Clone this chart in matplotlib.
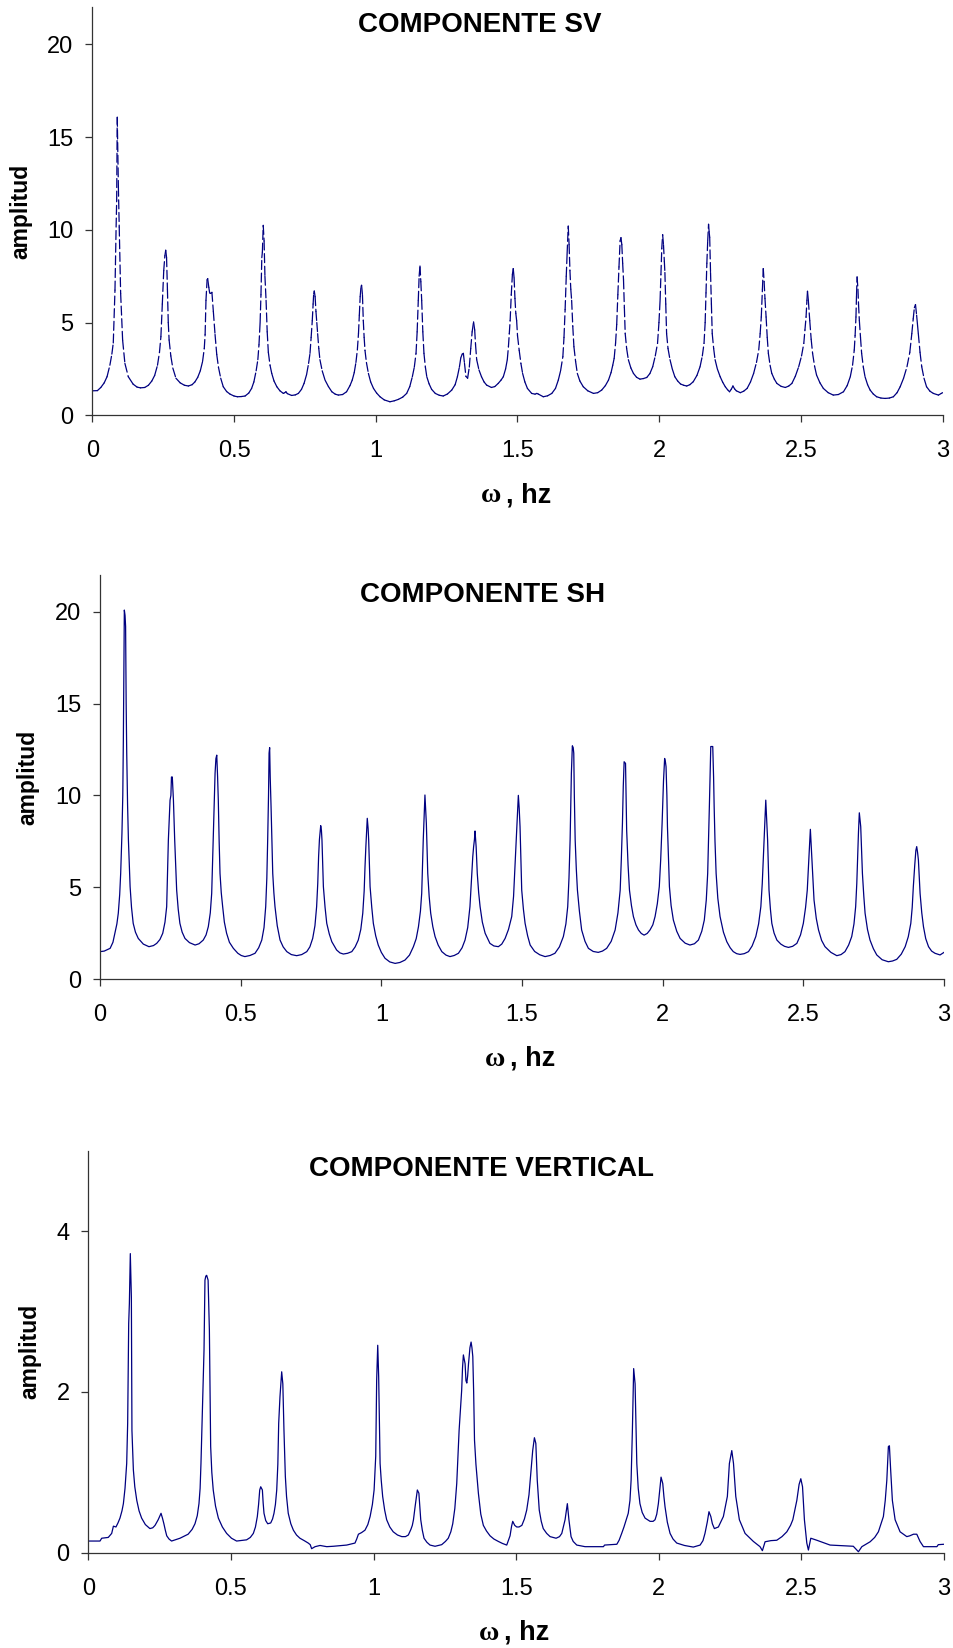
import numpy as np
import matplotlib
matplotlib.use("Agg")
import matplotlib.pyplot as plt
from matplotlib.collections import LineCollection

plt.rcParams['font.family'] = ['Liberation Sans', 'DejaVu Sans']
plt.rcParams['lines.scale_dashes'] = False

# ---------------------------------------------------------------- data
x_ticks = [0, 0.5, 1, 1.5, 2, 2.5, 3]
x_tick_labels = ['0', '0.5', '1', '1.5', '2', '2.5', '3']

titles = ['COMPONENTE SV', 'COMPONENTE SH', 'COMPONENTE VERTICAL']
y_label = 'amplitud'

# Componente SV
sv_freq = [
    0.000, 0.018, 0.030, 0.042, 0.052, 0.062, 0.069, 0.074, 0.080, 0.084, 0.086, 0.088,
    0.092, 0.095, 0.100, 0.107, 0.115, 0.127, 0.144, 0.158, 0.170, 0.185, 0.198, 0.210,
    0.220, 0.230, 0.237, 0.242, 0.247, 0.252, 0.256, 0.259, 0.262, 0.265, 0.268, 0.271,
    0.277, 0.284, 0.295, 0.310, 0.325, 0.339, 0.352, 0.362, 0.372, 0.381, 0.389, 0.395,
    0.398, 0.401, 0.405, 0.407, 0.411, 0.414, 0.418, 0.422, 0.427, 0.433, 0.439, 0.445,
    0.453, 0.462, 0.474, 0.486, 0.500, 0.512, 0.525, 0.539, 0.552, 0.562, 0.570, 0.578,
    0.584, 0.588, 0.592, 0.595, 0.598, 0.600, 0.603, 0.606, 0.609, 0.613, 0.617, 0.621,
    0.627, 0.633, 0.641, 0.651, 0.662, 0.674, 0.679, 0.683, 0.688, 0.703, 0.716, 0.727,
    0.738, 0.747, 0.756, 0.763, 0.768, 0.772, 0.776, 0.779, 0.781, 0.783, 0.786, 0.789,
    0.792, 0.795, 0.799, 0.803, 0.811, 0.821, 0.833, 0.845, 0.857, 0.868, 0.883, 0.897,
    0.909, 0.917, 0.924, 0.930, 0.935, 0.939, 0.942, 0.945, 0.948, 0.950, 0.953, 0.956,
    0.959, 0.962, 0.967, 0.974, 0.982, 0.992, 1.003, 1.015, 1.030, 1.050, 1.065, 1.080,
    1.095, 1.109, 1.120, 1.129, 1.136, 1.142, 1.146, 1.150, 1.153, 1.156, 1.159, 1.162,
    1.166, 1.170, 1.175, 1.180, 1.188, 1.197, 1.210, 1.224, 1.238, 1.253, 1.268, 1.280,
    1.288, 1.295, 1.300, 1.305, 1.309, 1.313, 1.318, 1.324, 1.330, 1.335, 1.340, 1.345,
    1.349, 1.352, 1.356, 1.364, 1.373, 1.382, 1.391, 1.408, 1.420, 1.432, 1.442, 1.450,
    1.458, 1.464, 1.468, 1.471, 1.474, 1.478, 1.482, 1.485, 1.488, 1.491, 1.494, 1.497,
    1.500, 1.506, 1.512, 1.518, 1.526, 1.535, 1.550, 1.562, 1.568, 1.574, 1.591, 1.606,
    1.621, 1.634, 1.644, 1.652, 1.660, 1.664, 1.668, 1.672, 1.675, 1.679, 1.682, 1.685,
    1.688, 1.691, 1.695, 1.699, 1.705, 1.711, 1.720, 1.732, 1.748, 1.768, 1.783, 1.797,
    1.810, 1.821, 1.830, 1.836, 1.841, 1.846, 1.850, 1.854, 1.858, 1.862, 1.865, 1.868,
    1.871, 1.874, 1.877, 1.880, 1.885, 1.891, 1.900, 1.909, 1.920, 1.932, 1.944, 1.956,
    1.967, 1.977, 1.986, 1.994, 1.999, 2.003, 2.006, 2.009, 2.012, 2.015, 2.018, 2.020,
    2.023, 2.026, 2.031, 2.038, 2.046, 2.055, 2.065, 2.075, 2.086, 2.097, 2.108, 2.120,
    2.133, 2.144, 2.152, 2.158, 2.162, 2.165, 2.168, 2.171, 2.174, 2.176, 2.178, 2.181,
    2.184, 2.187, 2.192, 2.197, 2.205, 2.215, 2.224, 2.233, 2.241, 2.248, 2.254, 2.260,
    2.266, 2.272, 2.286, 2.298, 2.310, 2.322, 2.333, 2.343, 2.351, 2.356, 2.360, 2.364,
    2.367, 2.370, 2.373, 2.377, 2.381, 2.385, 2.391, 2.397, 2.406, 2.415, 2.430, 2.445,
    2.457, 2.468, 2.480, 2.492, 2.502, 2.510, 2.514, 2.518, 2.521, 2.523, 2.526, 2.531,
    2.536, 2.541, 2.548, 2.555, 2.567, 2.579, 2.596, 2.614, 2.632, 2.650, 2.663, 2.674,
    2.682, 2.688, 2.691, 2.694, 2.696, 2.698, 2.701, 2.703, 2.706, 2.710, 2.714, 2.720,
    2.726, 2.735, 2.744, 2.755, 2.767, 2.782, 2.797, 2.812, 2.826, 2.839, 2.850, 2.862,
    2.874, 2.884, 2.891, 2.896, 2.900, 2.904, 2.908, 2.911, 2.914, 2.920, 2.926, 2.934,
    2.943, 2.955, 2.967, 2.985, 2.995, 3.000,
]
sv_amp = [
    1.32, 1.33, 1.50, 1.75, 2.08, 2.70, 3.30, 3.90, 6.75, 10.15, 11.60, 16.07,
    12.30, 10.15, 6.57, 4.05, 2.80, 2.08, 1.68, 1.52, 1.48, 1.50, 1.62, 1.85,
    2.15, 2.70, 3.40, 4.24, 6.00, 7.80, 8.60, 8.90, 8.50, 6.80, 5.00, 4.06,
    3.20, 2.55, 2.00, 1.75, 1.62, 1.58, 1.65, 1.80, 2.05, 2.40, 2.90, 3.60,
    4.36, 6.20, 7.30, 7.37, 6.90, 6.60, 6.57, 6.63, 5.60, 4.36, 3.28, 2.60,
    2.00, 1.54, 1.28, 1.14, 1.04, 1.00, 1.01, 1.04, 1.20, 1.45, 1.80, 2.40,
    3.00, 3.80, 5.00, 6.50, 8.50, 8.80, 10.24, 9.40, 7.50, 6.20, 4.50, 3.40,
    2.70, 2.26, 1.85, 1.54, 1.32, 1.18, 1.22, 1.27, 1.17, 1.07, 1.10, 1.18,
    1.40, 1.72, 2.20, 2.80, 3.34, 4.20, 5.10, 6.00, 6.55, 6.70, 6.40, 5.60,
    5.00, 4.40, 3.60, 3.00, 2.40, 1.90, 1.55, 1.27, 1.14, 1.09, 1.12, 1.27,
    1.60, 1.90, 2.30, 2.85, 3.52, 4.40, 5.40, 6.40, 6.95, 7.01, 6.50, 5.10,
    4.20, 3.50, 2.85, 2.26, 1.80, 1.45, 1.20, 1.00, 0.83, 0.73, 0.78, 0.86,
    0.98, 1.18, 1.55, 2.08, 2.60, 3.34, 4.50, 6.20, 7.50, 8.05, 7.20, 6.20,
    4.50, 3.34, 2.60, 2.08, 1.70, 1.40, 1.18, 1.08, 1.04, 1.15, 1.36, 1.65,
    2.08, 2.60, 3.10, 3.30, 3.34, 2.80, 2.10, 2.00, 2.60, 3.60, 4.50, 5.04,
    4.60, 3.80, 3.00, 2.45, 2.08, 1.80, 1.63, 1.50, 1.55, 1.72, 1.90, 2.08,
    2.50, 3.00, 3.70, 4.40, 5.10, 6.50, 7.60, 7.91, 7.40, 6.30, 5.50, 5.10,
    4.30, 3.50, 2.80, 2.26, 1.80, 1.45, 1.18, 1.14, 1.18, 1.14, 1.00, 1.05,
    1.18, 1.45, 1.90, 2.40, 3.16, 4.20, 5.70, 7.50, 8.70, 10.20, 9.20, 7.80,
    6.80, 6.20, 4.80, 3.70, 2.90, 2.26, 1.85, 1.54, 1.32, 1.18, 1.22, 1.36,
    1.60, 1.90, 2.30, 2.70, 3.07, 3.90, 4.90, 6.50, 8.00, 9.40, 9.58, 9.20,
    8.20, 7.30, 5.80, 4.40, 3.60, 3.00, 2.55, 2.26, 2.05, 1.95, 1.98, 2.04,
    2.25, 2.62, 3.20, 3.88, 5.00, 6.20, 7.60, 9.00, 9.74, 9.20, 8.30, 7.70,
    6.00, 4.40, 3.60, 3.00, 2.50, 2.08, 1.85, 1.69, 1.62, 1.58, 1.65, 1.81,
    2.15, 2.62, 3.20, 3.88, 5.00, 6.60, 8.20, 9.40, 10.30, 9.90, 9.60, 7.70,
    6.00, 4.40, 3.60, 3.00, 2.50, 2.08, 1.78, 1.54, 1.38, 1.27, 1.40, 1.58,
    1.42, 1.32, 1.22, 1.30, 1.45, 1.80, 2.26, 2.85, 3.52, 4.40, 5.30, 6.80,
    7.91, 7.20, 6.30, 5.30, 4.20, 3.34, 2.70, 2.26, 1.95, 1.72, 1.56, 1.50,
    1.58, 1.72, 2.10, 2.62, 3.20, 3.88, 4.60, 5.30, 6.20, 6.69, 6.20, 5.10,
    4.10, 3.34, 2.65, 2.17, 1.75, 1.45, 1.22, 1.09, 1.12, 1.27, 1.60, 2.08,
    2.70, 3.52, 4.30, 5.30, 6.50, 7.46, 6.80, 6.00, 5.10, 4.20, 3.34, 2.60,
    2.08, 1.65, 1.36, 1.15, 1.00, 0.93, 0.91, 0.93, 1.00, 1.22, 1.54, 2.00,
    2.62, 3.40, 4.40, 5.20, 5.80, 5.97, 5.40, 4.90, 4.40, 3.40, 2.62, 2.00,
    1.54, 1.30, 1.18, 1.09, 1.18, 1.22,
]

# Componente SH
sh_freq = [
    0.000, 0.015, 0.036, 0.046, 0.053, 0.060, 0.065, 0.070, 0.0735, 0.078, 0.081, 0.083,
    0.085, 0.0865, 0.089, 0.091, 0.093, 0.095, 0.098, 0.101, 0.107, 0.112, 0.118, 0.126,
    0.136, 0.154, 0.174, 0.190, 0.2015, 0.213, 0.223, 0.231, 0.237, 0.243, 0.246, 0.249,
    0.252, 0.254, 0.257, 0.261, 0.2655, 0.2725, 0.278, 0.284, 0.292, 0.302, 0.318, 0.338,
    0.352, 0.367, 0.377, 0.385, 0.392, 0.397, 0.400, 0.403, 0.406, 0.409, 0.412, 0.415,
    0.418, 0.4205, 0.4235, 0.4266, 0.431, 0.436, 0.442, 0.450, 0.460, 0.474, 0.490, 0.502,
    0.515, 0.533, 0.551, 0.564, 0.575, 0.583, 0.589, 0.593, 0.596, 0.599, 0.601, 0.603,
    0.605, 0.608, 0.611, 0.614, 0.618, 0.622, 0.630, 0.640, 0.651, 0.664, 0.680, 0.699,
    0.717, 0.735, 0.746, 0.756, 0.764, 0.770, 0.774, 0.777, 0.780, 0.7845, 0.787, 0.789,
    0.794, 0.800, 0.806, 0.815, 0.824, 0.841, 0.853, 0.865, 0.880, 0.895, 0.907, 0.918,
    0.927, 0.934, 0.939, 0.942, 0.945, 0.950, 0.953, 0.955, 0.960, 0.966, 0.9716, 0.980,
    0.989, 1.000, 1.013, 1.030, 1.049, 1.066, 1.084, 1.100, 1.114, 1.124, 1.132, 1.139,
    1.1435, 1.146, 1.149, 1.152, 1.155, 1.160, 1.165, 1.170, 1.1755, 1.183, 1.191, 1.202,
    1.215, 1.230, 1.244, 1.259, 1.274, 1.287, 1.2975, 1.307, 1.315, 1.320, 1.325, 1.328,
    1.331, 1.333, 1.337, 1.341, 1.346, 1.351, 1.359, 1.369, 1.386, 1.400, 1.416, 1.428,
    1.440, 1.452, 1.4635, 1.470, 1.475, 1.479, 1.483, 1.487, 1.490, 1.493, 1.499, 1.505,
    1.511, 1.520, 1.529, 1.545, 1.563, 1.582, 1.600, 1.617, 1.633, 1.647, 1.656, 1.6625,
    1.667, 1.671, 1.6755, 1.679, 1.682, 1.684, 1.686, 1.689, 1.693, 1.697, 1.704, 1.712,
    1.724, 1.736, 1.753, 1.771, 1.786, 1.801, 1.817, 1.831, 1.841, 1.849, 1.853, 1.857,
    1.860, 1.863, 1.868, 1.870, 1.872, 1.877, 1.882, 1.889, 1.896, 1.905, 1.914, 1.924,
    1.934, 1.945, 1.955, 1.965, 1.973, 1.981, 1.988, 1.993, 1.998, 2.003, 2.007, 2.010,
    2.012, 2.015, 2.017, 2.021, 2.024, 2.030, 2.038, 2.050, 2.062, 2.080, 2.097, 2.113,
    2.127, 2.139, 2.148, 2.155, 2.160, 2.163, 2.166, 2.169, 2.171, 2.178, 2.181, 2.183,
    2.186, 2.190, 2.196, 2.204, 2.216, 2.228, 2.240, 2.251, 2.263, 2.275, 2.290, 2.305,
    2.318, 2.331, 2.341, 2.349, 2.354, 2.358, 2.362, 2.3665, 2.370, 2.373, 2.378, 2.383,
    2.388, 2.396, 2.406, 2.420, 2.433, 2.447, 2.462, 2.477, 2.490, 2.500, 2.508, 2.514,
    2.517, 2.520, 2.525, 2.530, 2.534, 2.538, 2.546, 2.554, 2.565, 2.577, 2.598, 2.619,
    2.634, 2.648, 2.661, 2.672, 2.680, 2.686, 2.690, 2.693, 2.696, 2.699, 2.704, 2.707,
    2.710, 2.715, 2.7195, 2.728, 2.737, 2.749, 2.761, 2.780, 2.802, 2.817, 2.832, 2.848,
    2.862, 2.873, 2.882, 2.887, 2.891, 2.896, 2.900, 2.903, 2.906, 2.909, 2.915, 2.921,
    2.927, 2.935, 2.945, 2.956, 2.968, 2.986, 3.000,
]
sh_amp = [
    1.49, 1.52, 1.67, 2.00, 2.49, 3.00, 3.58, 4.60, 5.75, 7.93, 10.00, 13.00,
    17.00, 20.09, 19.80, 19.20, 15.00, 12.30, 9.50, 7.57, 5.03, 3.90, 3.03, 2.55,
    2.21, 1.90, 1.76, 1.82, 1.94, 2.15, 2.49, 3.10, 3.94, 7.57, 8.60, 9.74,
    10.00, 11.00, 11.00, 9.74, 7.57, 4.84, 3.80, 3.03, 2.55, 2.21, 1.98, 1.85,
    1.92, 2.12, 2.40, 2.85, 3.60, 4.66, 6.20, 7.93, 9.50, 11.20, 12.00, 12.19,
    11.00, 9.74, 7.50, 5.75, 4.70, 3.94, 3.10, 2.49, 2.00, 1.67, 1.40, 1.28,
    1.22, 1.28, 1.40, 1.70, 2.12, 2.80, 3.94, 5.50, 7.57, 10.00, 12.30, 12.60,
    11.00, 9.40, 7.50, 5.75, 4.70, 3.94, 2.90, 2.12, 1.75, 1.49, 1.33, 1.27,
    1.33, 1.49, 1.75, 2.21, 2.90, 3.94, 5.20, 6.66, 7.60, 8.35, 8.10, 7.57,
    5.03, 3.90, 3.03, 2.45, 2.03, 1.58, 1.42, 1.36, 1.40, 1.49, 1.75, 2.12,
    2.70, 3.58, 4.80, 6.12, 7.20, 8.75, 8.20, 7.57, 5.03, 3.90, 3.03, 2.35,
    1.85, 1.45, 1.13, 0.93, 0.85, 0.90, 1.03, 1.30, 1.76, 2.20, 2.85, 3.70,
    4.66, 6.00, 7.57, 8.80, 10.02, 8.48, 5.75, 4.50, 3.58, 2.85, 2.31, 1.85,
    1.49, 1.30, 1.22, 1.28, 1.40, 1.70, 2.12, 2.80, 3.94, 5.30, 6.66, 7.20,
    7.60, 8.06, 7.20, 5.75, 4.70, 3.94, 3.10, 2.49, 1.94, 1.80, 1.76, 1.90,
    2.21, 2.70, 3.40, 4.50, 6.12, 7.50, 8.80, 10.00, 9.30, 8.30, 4.84, 3.80,
    3.03, 2.35, 1.85, 1.50, 1.32, 1.22, 1.28, 1.40, 1.75, 2.31, 3.00, 3.94,
    5.50, 7.57, 11.20, 12.70, 12.60, 12.30, 10.00, 7.57, 6.00, 4.84, 3.70, 2.67,
    2.05, 1.67, 1.50, 1.45, 1.52, 1.67, 2.05, 2.67, 3.60, 4.84, 6.50, 8.48,
    10.50, 11.83, 11.74, 10.00, 8.11, 6.20, 4.84, 4.00, 3.40, 2.95, 2.67, 2.48,
    2.39, 2.48, 2.67, 2.95, 3.40, 4.10, 5.03, 6.50, 8.48, 10.80, 12.01, 11.80,
    11.56, 10.00, 8.30, 6.50, 5.03, 4.00, 3.21, 2.60, 2.21, 1.95, 1.85, 1.92,
    2.12, 2.60, 3.21, 4.30, 5.75, 7.50, 9.40, 11.50, 12.66, 12.66, 11.00, 9.40,
    7.50, 5.75, 4.40, 3.40, 2.55, 2.03, 1.70, 1.49, 1.38, 1.34, 1.38, 1.49,
    1.80, 2.31, 3.00, 3.94, 5.20, 6.66, 8.20, 9.74, 8.50, 7.57, 4.84, 3.80,
    3.03, 2.50, 2.12, 1.90, 1.78, 1.72, 1.78, 1.94, 2.40, 3.03, 3.90, 4.84,
    5.80, 6.66, 8.15, 6.66, 5.40, 4.30, 3.30, 2.67, 2.10, 1.76, 1.45, 1.27,
    1.33, 1.49, 1.85, 2.31, 3.00, 3.94, 5.20, 6.66, 8.00, 9.05, 8.30, 7.00,
    5.75, 4.50, 3.58, 2.70, 2.12, 1.65, 1.31, 1.05, 0.94, 0.98, 1.07, 1.35,
    1.76, 2.30, 3.03, 3.90, 5.03, 6.20, 7.00, 7.21, 6.90, 6.48, 4.66, 3.60,
    2.85, 2.20, 1.76, 1.52, 1.40, 1.31, 1.45,
]

# Componente vertical
vert_freq = [
    0.000, 0.041, 0.047, 0.070, 0.082, 0.088, 0.097, 0.104, 0.111, 0.118, 0.123, 0.1287,
    0.1346, 0.138, 0.1416, 0.144, 0.1473, 0.151, 0.153, 0.158, 0.163, 0.170, 0.178, 0.187,
    0.200, 0.216, 0.226, 0.234, 0.245, 0.255, 0.260, 0.265, 0.270, 0.275, 0.283, 0.292,
    0.3215, 0.350, 0.364, 0.374, 0.382, 0.388, 0.392, 0.395, 0.398, 0.401, 0.4057, 0.409,
    0.412, 0.415, 0.420, 0.4245, 0.427, 0.429, 0.433, 0.438, 0.446, 0.456, 0.470, 0.485,
    0.502, 0.520, 0.555, 0.568, 0.5786, 0.586, 0.5926, 0.597, 0.601, 0.6045, 0.6103, 0.613,
    0.616, 0.622, 0.629, 0.6395, 0.646, 0.651, 0.656, 0.6606, 0.6645, 0.6675, 0.672, 0.675,
    0.678, 0.682, 0.686, 0.6908, 0.695, 0.701, 0.710, 0.719, 0.730, 0.742, 0.757, 0.771,
    0.778, 0.783, 0.795, 0.8125, 0.836, 0.859, 0.906, 0.935, 0.941, 0.947, 0.958, 0.970,
    0.980, 0.988, 0.996, 1.002, 1.0077, 1.011, 1.0147, 1.018, 1.021, 1.023, 1.027, 1.032,
    1.039, 1.046, 1.057, 1.069, 1.084, 1.099, 1.112, 1.122, 1.131, 1.136, 1.140, 1.146,
    1.1536, 1.159, 1.162, 1.1655, 1.171, 1.177, 1.187, 1.198, 1.2157, 1.239, 1.252, 1.262,
    1.271, 1.2777, 1.285, 1.2917, 1.296, 1.300, 1.305, 1.309, 1.312, 1.315, 1.321, 1.324,
    1.327, 1.330, 1.333, 1.338, 1.342, 1.345, 1.348, 1.351, 1.354, 1.359, 1.3676, 1.376,
    1.385, 1.396, 1.4085, 1.422, 1.4376, 1.452, 1.467, 1.4786, 1.484, 1.488, 1.495, 1.502,
    1.510, 1.520, 1.529, 1.537, 1.545, 1.551, 1.558, 1.564, 1.569, 1.574, 1.581, 1.588,
    1.595, 1.607, 1.619, 1.640, 1.652, 1.660, 1.6715, 1.6795, 1.685, 1.6925, 1.700, 1.7125,
    1.7416, 1.806, 1.810, 1.853, 1.861, 1.870, 1.878, 1.893, 1.899, 1.903, 1.9075, 1.912,
    1.917, 1.920, 1.923, 1.928, 1.934, 1.942, 1.952, 1.9695, 1.980, 1.987, 1.993, 1.9986,
    2.004, 2.008, 2.014, 2.018, 2.022, 2.030, 2.0396, 2.050, 2.063, 2.090, 2.121, 2.145,
    2.155, 2.162, 2.170, 2.176, 2.1825, 2.188, 2.195, 2.209, 2.2265, 2.2405, 2.2476, 2.256,
    2.262, 2.266, 2.270, 2.2826, 2.3026, 2.3317, 2.355, 2.3633, 2.3727, 2.393, 2.4137, 2.432,
    2.449, 2.462, 2.470, 2.484, 2.492, 2.498, 2.504, 2.5106, 2.519, 2.5246, 2.533, 2.554,
    2.6006, 2.682, 2.700, 2.712, 2.741, 2.757, 2.770, 2.7875, 2.794, 2.7995, 2.805, 2.8086,
    2.813, 2.819, 2.8286, 2.846, 2.8696, 2.880, 2.893, 2.9046, 2.916, 2.928, 2.975, 2.980,
    3.000,
]
vert_amp = [
    0.145, 0.145, 0.18, 0.19, 0.24, 0.33, 0.32, 0.37, 0.43, 0.52, 0.61, 0.80,
    1.11, 1.61, 2.85, 3.10, 3.72, 3.18, 1.52, 1.03, 0.82, 0.65, 0.52, 0.43,
    0.35, 0.30, 0.31, 0.34, 0.41, 0.49, 0.43, 0.36, 0.28, 0.21, 0.17, 0.145,
    0.18, 0.23, 0.29, 0.36, 0.46, 0.61, 0.80, 1.11, 1.50, 1.94, 2.52, 3.39,
    3.44, 3.45, 3.39, 2.77, 2.00, 1.32, 1.00, 0.78, 0.58, 0.43, 0.32, 0.24,
    0.18, 0.145, 0.16, 0.19, 0.24, 0.32, 0.45, 0.60, 0.78, 0.82, 0.78, 0.62,
    0.49, 0.40, 0.36, 0.37, 0.42, 0.49, 0.60, 0.78, 1.10, 1.61, 1.94, 2.10,
    2.25, 2.10, 1.52, 0.95, 0.70, 0.49, 0.36, 0.28, 0.22, 0.18, 0.15, 0.12,
    0.10, 0.05, 0.075, 0.09, 0.075, 0.08, 0.095, 0.12, 0.17, 0.23, 0.25, 0.28,
    0.35, 0.45, 0.60, 0.78, 1.20, 2.15, 2.58, 2.19, 1.50, 1.11, 0.90, 0.70,
    0.53, 0.41, 0.32, 0.26, 0.22, 0.20, 0.20, 0.22, 0.29, 0.34, 0.41, 0.58,
    0.78, 0.74, 0.58, 0.41, 0.28, 0.18, 0.13, 0.095, 0.08, 0.10, 0.14, 0.18,
    0.26, 0.36, 0.55, 0.86, 1.20, 1.52, 1.80, 2.02, 2.30, 2.46, 2.35, 2.14,
    2.11, 2.20, 2.35, 2.55, 2.62, 2.55, 2.44, 2.00, 1.40, 1.10, 0.74, 0.48,
    0.34, 0.27, 0.21, 0.17, 0.14, 0.115, 0.095, 0.21, 0.33, 0.39, 0.34, 0.32,
    0.32, 0.34, 0.42, 0.53, 0.72, 0.98, 1.27, 1.43, 1.36, 0.90, 0.53, 0.39,
    0.30, 0.24, 0.20, 0.18, 0.20, 0.24, 0.41, 0.61, 0.41, 0.20, 0.14, 0.095,
    0.075, 0.075, 0.095, 0.105, 0.155, 0.24, 0.32, 0.49, 0.65, 0.90, 1.52, 2.29,
    2.10, 1.60, 1.11, 0.80, 0.61, 0.50, 0.43, 0.39, 0.39, 0.41, 0.48, 0.61,
    0.80, 0.94, 0.86, 0.70, 0.57, 0.38, 0.24, 0.17, 0.12, 0.09, 0.07, 0.095,
    0.15, 0.24, 0.38, 0.51, 0.45, 0.36, 0.30, 0.32, 0.45, 0.70, 1.11, 1.27,
    1.11, 0.90, 0.70, 0.41, 0.24, 0.14, 0.075, 0.025, 0.136, 0.15, 0.155, 0.20,
    0.26, 0.34, 0.41, 0.65, 0.85, 0.92, 0.82, 0.41, 0.12, 0.033, 0.18, 0.155,
    0.095, 0.08, 0.012, 0.075, 0.136, 0.19, 0.26, 0.45, 0.65, 0.90, 1.32, 1.33,
    1.03, 0.65, 0.41, 0.26, 0.20, 0.21, 0.23, 0.23, 0.14, 0.075, 0.075, 0.10,
    0.105,
]

# ---------------------------------------------------------------- drawing
LINE_COLOR = '#000080'
AXIS_COLOR = '#333333'
W, H = 954, 1648

fig = plt.figure(figsize=(W / 100, H / 100), dpi=100)
fig.patch.set_facecolor('white')


def px_axes(left, top, right, bottom):
    return fig.add_axes([left / W, 1 - bottom / H, (right - left) / W, (bottom - top) / H])


def style(ax, ymax, yticks):
    ax.set_xlim(0, 3)
    ax.set_ylim(0, ymax)
    for side in ('top', 'right'):
        ax.spines[side].set_visible(False)
    for side in ('left', 'bottom'):
        ax.spines[side].set_color(AXIS_COLOR)
        ax.spines[side].set_linewidth(0.9)
    ax.set_xticks(x_ticks)
    ax.set_xticklabels(x_tick_labels)
    ax.set_yticks(yticks)
    ax.set_yticklabels([str(v) for v in yticks])
    ax.tick_params(direction='out', length=5, width=0.9, color=AXIS_COLOR,
                   labelsize=17, labelcolor='black')
    ax.tick_params(axis='x', pad=13)
    ax.tick_params(axis='y', pad=8.5)


def labels(ax, title, title_x, title_base, ylab_x):
    fig.text(title_x / W, 1 - title_base / H, title, ha='center', va='baseline',
             fontsize=20, fontweight='bold')
    ax.text(ylab_x, 0.5, y_label, transform=ax.transAxes, rotation=90,
            ha='center', va='center', fontsize=16.5, fontweight='bold')
    ax.annotate('ω', xy=(0.5, 0), xycoords='axes fraction', xytext=(-37, -87),
                textcoords='offset pixels', ha='left', va='baseline',
                fontsize=20, fontweight='bold', family=['Liberation Serif', 'DejaVu Serif'])
    ax.annotate(', hz', xy=(0.5, 0), xycoords='axes fraction', xytext=(-12, -87),
                textcoords='offset pixels', ha='left', va='baseline',
                fontsize=19.5, fontweight='bold')


# SV panel: each sample-to-sample segment carries its own dash pattern
ax1 = px_axes(92.3, 7.3, 942.7, 415.3)
style(ax1, 22, [0, 5, 10, 15, 20])
pts = np.column_stack([sv_freq, sv_amp])
segs = np.stack([pts[:-1], pts[1:]], axis=1)
lc = LineCollection(segs, colors=LINE_COLOR, linewidths=0.9,
                    linestyles=[(0, (6.5, 2.6))], capstyle='round')
ax1.add_collection(lc)
labels(ax1, titles[0], 480, 32.3, -0.0835)

# SH panel
ax2 = px_axes(100, 575, 944, 979)
style(ax2, 22, [0, 5, 10, 15, 20])
ax2.plot(sh_freq, sh_amp, color=LINE_COLOR, lw=0.9)
labels(ax2, titles[1], 482.5, 601.7, -0.085)

# Vertical panel
ax3 = px_axes(88.3, 1150.7, 944, 1552.7)
style(ax3, 5, [0, 2, 4])
ax3.plot(vert_freq, vert_amp, color=LINE_COLOR, lw=0.9)
labels(ax3, titles[2], 481.3, 1175.7, -0.0687)

fig.savefig('out.png', dpi=100, facecolor='white')
